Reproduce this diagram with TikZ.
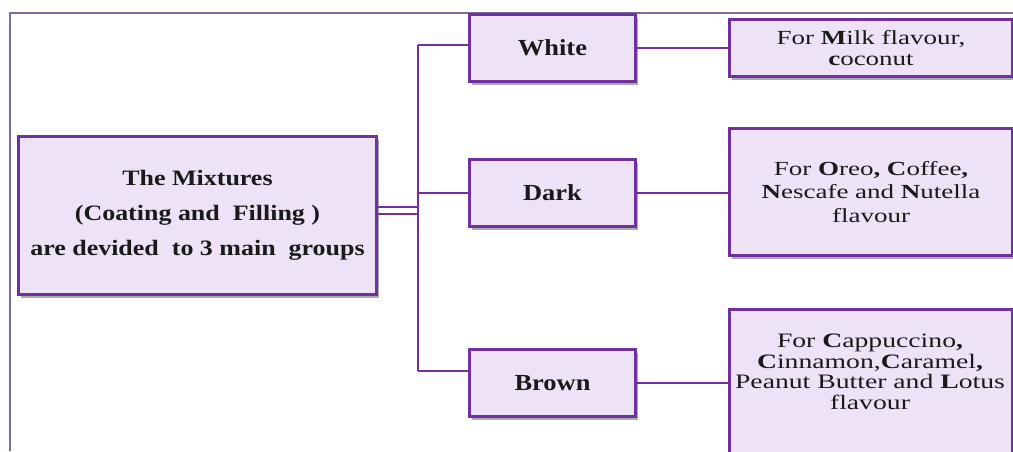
\documentclass[tikz,border=0pt]{standalone}
\usepackage{fontspec}
\setmainfont{Liberation Serif}
\newfontfamily\headfont[FakeStretch=1.18]{Liberation Serif}
\newfontfamily\groupfont[FakeStretch=1.15]{Liberation Serif}
\newfontfamily\descfont[FakeStretch=1.35]{Liberation Serif}
\usetikzlibrary{shadows}
\definecolor{boxline}{HTML}{7030A0}
\definecolor{boxfill}{HTML}{EEE3F6}
\definecolor{frameline}{HTML}{7E6D9C}
\definecolor{ink}{HTML}{1A1A1A}
\begin{document}
\begin{tikzpicture}[x=1pt,y=-1pt,
  card/.style={draw=boxline, line width=3pt, fill=boxfill, text=ink,
    drop shadow={shadow xshift=2pt, shadow yshift=-3.5pt, opacity=0.6, fill=black!55},
    inner sep=0pt, anchor=north west, align=center},
  headtext/.style={font=\headfont\bfseries\fontsize{22}{35}\selectfont},
  grouptext/.style={font=\groupfont\bfseries\fontsize{23}{28}\selectfont},
  desctext/.style={font=\descfont\fontsize{20}{23.5}\selectfont},
  link/.style={draw=boxline, line width=2pt},
  frame/.style={draw=frameline, line width=1.2pt}]

\useasboundingbox (0,0) rectangle (1013,451);
\fill[white] (0,0) rectangle (1013,451);
\clip (0,0) rectangle (1013,451);

% thin outline along the left and top
\draw[frame] (10,451) -- (10,13) -- (1013,13);

% root box
\node[card, headtext, minimum width=358pt, minimum height=158pt] (main) at (17,135)
  {The Mixtures\\(Coating and~~Filling )\\are devided~ to 3 main~ groups};

% the three groups
\node[card, grouptext, minimum width=166pt, minimum height=67pt] (white) at (468,13) {White};
\node[card, grouptext, minimum width=166pt, minimum height=67pt] (dark)  at (468,158) {Dark};
\node[card, grouptext, minimum width=166pt, minimum height=67pt] (brown) at (468,348) {Brown};

% flavour descriptions
\node[card, desctext, font=\descfont\fontsize{20}{21}\selectfont,
  minimum width=283pt, minimum height=57pt] (milk) at (728,18)
  {For \textbf{M}ilk flavour,\\\textbf{c}oconut};
\node[card, desctext, minimum width=283pt, minimum height=127pt] (darkdesc) at (728,127)
  {For \textbf{O}reo\textbf{,} \textbf{C}offee\textbf{,}\\\textbf{N}escafe and \textbf{N}utella\\flavour};
\node[card, minimum width=283pt, minimum height=200pt] (browndesc) at (728,308) {};
\node[desctext, text=ink, align=center, font=\descfont\fontsize{20.5}{20.5}\selectfont]
  (browntext) at (870,372)
  {For \textbf{C}appuccino\textbf{,}\\\textbf{C}innamon,\textbf{C}aramel\textbf{,}\\Peanut Butter and \textbf{L}otus\\flavour};

% trunk and branches
\coordinate (trunktop) at (418,45);
\coordinate (trunkbot) at (418,371);
\draw[link] ([yshift=9pt]main.east) -- ([yshift=9pt]main.east -| trunktop);
\draw[link] ([yshift=2pt]main.east) -- ([yshift=2pt]main.east -| trunktop);
\draw[link] (trunktop) -- (trunkbot);
\draw[link] (trunktop) -- (trunktop -| white.west);
\draw[link] (dark.west -| trunktop) -- (dark.west);
\draw[link] (trunkbot) -- (trunkbot -| brown.west);

\draw[link] (white.east) -- (white.east -| milk.west);
\draw[link] (dark.east) -- (dark.east -| darkdesc.west);
\draw[link] (brown.east) -- (brown.east -| browndesc.west);
\end{tikzpicture}
\end{document}
